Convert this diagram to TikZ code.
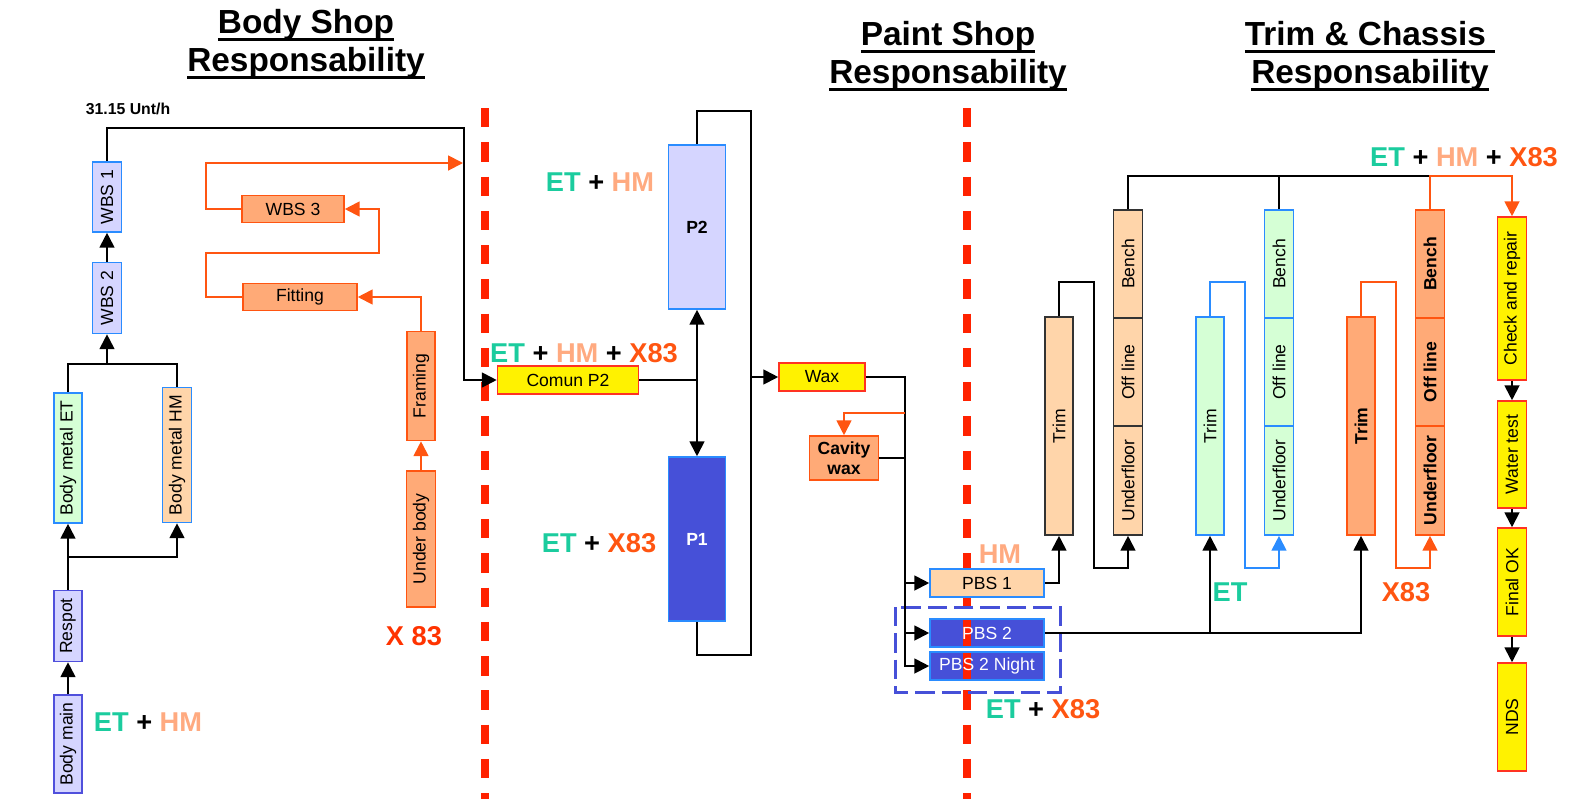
\documentclass[tikz,border=0pt]{standalone}
\usepackage{fontspec}
\setmainfont{Liberation Sans}
\usetikzlibrary{arrows.meta}
\definecolor{lav}{HTML}{D5D5FF}
\definecolor{lavline}{HTML}{5050DC}
\definecolor{skyline}{HTML}{2A8CFF}
\definecolor{mint}{HTML}{D5FFD5}
\definecolor{peach}{HTML}{FFD5AA}
\definecolor{salmon}{HTML}{FFAA77}
\definecolor{orng}{HTML}{FF5511}
\definecolor{royal}{HTML}{4650D8}
\definecolor{cutred}{HTML}{FF2200}
\definecolor{boxred}{HTML}{FF3322}
\definecolor{darkln}{HTML}{333333}
\definecolor{etc}{HTML}{1BCC9E}
\definecolor{hmc}{HTML}{FFAA80}
\definecolor{xc}{HTML}{FF5511}
\definecolor{xred}{HTML}{FF3300}
\newcommand{\vtxt}[1]{\rotatebox{90}{#1}}
\newcommand{\hdline}[1]{\setbox0\hbox{#1}\rlap{\rule[-4.3pt]{\wd0}{1.6pt}}\box0}
\tikzset{
  box/.style={draw, line width=0.9pt, inner sep=0pt, font=\fontsize{10}{11.5}\selectfont},
  boldtxt/.style={font=\bfseries\fontsize{10}{11.5}\selectfont},
  sz/.style 2 args={minimum width=#1*0.02cm, minimum height=#2*0.02cm},
  ln/.style={line width=1.1pt},
  arr/.style={ln, -{Triangle[length=8.5pt,width=8.5pt]}},
  oarr/.style={arr, orng},
  tag/.style={font=\bfseries\fontsize{15.5}{18}\selectfont, inner sep=0pt},
  head/.style={font=\bfseries\fontsize{19}{21.5}\selectfont, align=center, inner sep=0pt},
  cut/.style={cutred, line width=4.5pt, dash pattern=on 11pt off 8.5pt},
  redstrip/.style={path picture={\fill[cutred] ([xshift=-0.48cm]path picture bounding box.north) rectangle ([xshift=-0.32cm]path picture bounding box.south);}},
}
\begin{document}
\begin{tikzpicture}[x=0.02cm, y=-0.02cm]
\useasboundingbox (0,0) rectangle (1572,799);
\draw[cut] (485,108) -- (485,799);
\draw[cut] (967,108) -- (967,799);

\node[head] (hbody) at (306,44) {\hdline{Body Shop}\\\hdline{Responsability}};
\node[head] (hpaint) at (948,56) {\hdline{Paint Shop}\\\hdline{Responsability}};
\node[head] (htrim) at (1370,56) {\hdline{Trim \& Chassis\ }\\\hdline{Responsability}};

\node[box, sz={28}{98}, fill=lav, draw=lavline] (bodymain) at (68,744) {\vtxt{Body main}};
\node[box, sz={28}{71}, fill=lav, draw=lavline] (respot) at (68,626) {\vtxt{Respot}};
\node[box, sz={28}{130}, fill=mint, draw=skyline] (metalet) at (68,458) {\vtxt{Body metal ET}};
\node[box, sz={29}{135}, fill=peach, draw=skyline] (metalhm) at (177,455) {\vtxt{Body metal HM}};
\node[box, sz={29}{71}, fill=lav, draw=skyline] (wbstwo) at (107,298) {\vtxt{WBS 2}};
\node[box, sz={29}{70}, fill=lav, draw=skyline] (wbsone) at (107,197) {\vtxt{WBS 1}};
\node[font=\bfseries\fontsize{9}{11}\selectfont, inner sep=0pt] (rate) at (128,109) {31.15 Unt/h};
\node[box, sz={102}{27}, fill=salmon, draw=orng] (wbsthree) at (293,209) {WBS 3};
\node[box, sz={114}{27}, fill=salmon, draw=orng] (fitting) at (300,297) {Fitting};
\node[box, sz={28}{109}, fill=salmon, draw=orng] (framing) at (421,386) {\vtxt{Framing}};
\node[box, sz={29}{136}, fill=salmon, draw=orng] (underbody) at (421,539) {\vtxt{Under body}};
\node[tag] (tbody) at (148,722) {\textcolor{etc}{ET} + \textcolor{hmc}{HM}};
\node[tag, xred] (tx) at (414,636) {X 83};

\node[box, sz={141}{28}, fill=yellow, draw=boxred] (comun) at (568,380) {Comun P2};
\node[box, boldtxt, sz={57}{164}, fill=lav, draw=skyline] (ptwo) at (697,227) {P2};
\node[box, boldtxt, sz={57}{164}, fill=royal, draw=skyline, text=white] (pone) at (697,539) {P1};
\node[box, sz={86}{28}, fill=yellow, draw=boxred] (wax) at (822,377) {Wax};
\node[box, boldtxt, sz={69}{44}, fill=salmon, draw=orng, align=center] (cavity) at (844,458) {Cavity\\wax};
\node[box, sz={114}{28}, fill=peach, draw=skyline] (pbsone) at (987,583) {PBS 1};
\node[box, sz={114}{28}, fill=royal, draw=skyline, text=white, redstrip] (pbstwo) at (987,633) {PBS 2};
\node[box, sz={114}{28}, fill=royal, draw=skyline, text=white, redstrip] (pbsnight) at (987,666) {PBS 2 Night};
\draw[royal, line width=1.7pt, dash pattern=on 11pt off 4pt] (895,607) rectangle (1060,692);
\node[tag] (tptwo) at (600,182) {\textcolor{etc}{ET} + \textcolor{hmc}{HM}};
\node[tag] (tcomun) at (584,353) {\textcolor{etc}{ET} + \textcolor{hmc}{HM} + \textcolor{xc}{X83}};
\node[tag] (tpone) at (599,543) {\textcolor{etc}{ET} + \textcolor{xc}{X83}};
\node[tag, hmc] (tpbsone) at (1000,554) {HM};
\node[tag] (tpbstwo) at (1043,709) {\textcolor{etc}{ET} + \textcolor{xc}{X83}};

\node[box, sz={28}{218}, fill=peach, draw=darkln] (trimhm) at (1059,426) {\vtxt{Trim}};
\node[box, sz={29}{108}, fill=peach, draw=darkln] (benchhm) at (1128,264) {\vtxt{Bench}};
\node[box, sz={29}{108}, fill=peach, draw=darkln] (offhm) at (1128,372) {\vtxt{Off line}};
\node[box, sz={29}{109}, fill=peach, draw=darkln] (underhm) at (1128,480.5) {\vtxt{Underfloor}};
\node[box, sz={28}{218}, fill=mint, draw=skyline] (trimet) at (1210,426) {\vtxt{Trim}};
\node[box, sz={29}{108}, fill=mint, draw=skyline] (benchet) at (1279,264) {\vtxt{Bench}};
\node[box, sz={29}{108}, fill=mint, draw=skyline] (offet) at (1279,372) {\vtxt{Off line}};
\node[box, sz={29}{109}, fill=mint, draw=skyline] (underet) at (1279,480.5) {\vtxt{Underfloor}};
\node[box, boldtxt, sz={28}{218}, fill=salmon, draw=orng] (trimx) at (1361,426) {\vtxt{Trim}};
\node[box, boldtxt, sz={29}{108}, fill=salmon, draw=orng] (benchx) at (1430,264) {\vtxt{Bench}};
\node[box, boldtxt, sz={29}{108}, fill=salmon, draw=orng] (offx) at (1430,372) {\vtxt{Off line}};
\node[box, boldtxt, sz={29}{109}, fill=salmon, draw=orng] (underx) at (1430,480.5) {\vtxt{Underfloor}};
\node[box, sz={29}{163}, fill=yellow, draw=boxred] (check) at (1512,298.5) {\vtxt{Check and repair}};
\node[box, sz={29}{107}, fill=yellow, draw=boxred] (water) at (1512,454.5) {\vtxt{Water test}};
\node[box, sz={29}{108}, fill=yellow, draw=boxred] (final) at (1512,582) {\vtxt{Final OK}};
\node[box, sz={29}{108}, fill=yellow, draw=boxred] (nds) at (1512,717) {\vtxt{NDS}};
\node[tag, etc] (tet) at (1230,592) {ET};
\node[tag, xc] (txx) at (1406,592) {X83};
\node[tag] (ttrim) at (1464,157) {\textcolor{etc}{ET} + \textcolor{hmc}{HM} + \textcolor{xc}{X83}};

\draw[arr] (bodymain.north) -- (respot.south);
\coordinate (jr) at (68,557);
\draw[arr] (respot.north) -- (metalet.south);
\draw[arr] (jr) -| (metalhm.south);
\coordinate (jm) at (107,364);
\draw[ln] (metalet.north) |- (jm) -| (metalhm.north);
\draw[arr] (jm) -- (wbstwo.south);
\draw[arr] (wbstwo.north) -- (wbsone.south);
\coordinate (ctop) at (464,128);
\draw[arr] (wbsone.north) |- (ctop) |- (comun.west);

\draw[oarr] (underbody.north) -- (framing.south);
\draw[oarr] (framing.north) |- (fitting.east);
\draw[oarr] (fitting.west) -- ++(-36,0) -- ++(0,-44) -- ++(173,0) |- (wbsthree.east);
\coordinate (otip) at (463,163);
\draw[oarr] (wbsthree.west) -- ++(-35,0) |- (otip);

\coordinate (jc) at (697,380);
\draw[ln] (comun.east) -- (jc);
\draw[arr] (jc) -- (ptwo.south);
\draw[arr] (jc) -- (pone.north);
\coordinate (lpa) at (751,111);
\coordinate (lpb) at (751,655);
\draw[ln] (ptwo.north) |- (lpa) -- (lpb) -| (pone.south);
\coordinate (jw) at (751,377);
\draw[arr] (jw) -- (wax.west);

\coordinate (wx) at (905,377);
\draw[arr] (wax.east) -- (wx) |- (pbsnight.west);
\draw[arr] (wx |- pbsone.west) -- (pbsone.west);
\draw[arr] (wx |- pbstwo.west) -- (pbstwo.west);
\draw[ln] (cavity.east) -- (cavity.east -| wx);
\coordinate (wo) at (905,413);
\draw[oarr] (wo) -| (cavity.north);

\draw[arr] (pbsone.east) -| (trimhm.south);
\draw[arr] (trimhm.north) -- ++(0,-34) -| ++(35,286) -| (underhm.south);
\draw[arr, skyline] (trimet.north) -- ++(0,-34) -| ++(35,286) -| (underet.south);
\draw[oarr] (trimx.north) -- ++(0,-34) -| ++(35,286) -| (underx.south);
\draw[arr] (pbstwo.east) -| (trimx.south);
\draw[arr] (pbstwo.east -| trimet.south) -- (trimet.south);

\coordinate (tr) at (1430,176);
\draw[ln] (benchhm.north) |- (tr);
\draw[ln] (benchet.north) -- (benchet.north |- tr);
\draw[oarr] (benchx.north) -- (tr) -| (check.north);
\draw[arr] (check.south) -- (water.north);
\draw[arr] (water.south) -- (final.north);
\draw[arr] (final.south) -- (nds.north);
\end{tikzpicture}
\end{document}
